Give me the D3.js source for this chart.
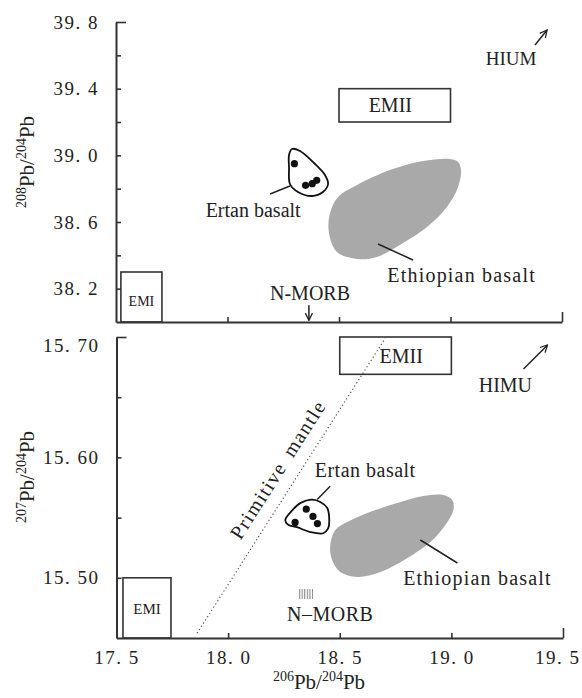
<!DOCTYPE html>
<html>
<head>
<meta charset="utf-8">
<script src="https://cdn.jsdelivr.net/npm/d3@7"></script>
<style>
  body { margin: 0; background: #fff; }
  svg { display: block; }
</style>
</head>
<body>
<svg id="chart" width="582" height="698"></svg>
<script>
// ---- shared x axis (206Pb/204Pb)
const xTicks = [17.5, 18.0, 18.5, 19.0, 19.5];
const xTickLabels = ['17. 5', '18. 0', '18. 5', '19. 0', '19. 5'];

// ---- upper panel (208Pb/204Pb)
const topYTicks = [38.2, 38.6, 39.0, 39.4, 39.8];
const topYLabels = ['38. 2', '38. 6', '39. 0', '39. 4', '39. 8'];
const topYMinor = [38.4, 38.8, 39.2, 39.6];

// ---- lower panel (207Pb/204Pb)
const botYTicks = [15.50, 15.60, 15.70];
const botYLabels = ['15. 50', '15. 60', '15. 70'];
const botYMinor = [15.55, 15.65];

// Ertan basalt samples
const ertanX = [18.30, 18.35, 18.38, 18.40];
const ertan208 = [38.95, 38.82, 38.83, 38.85];
const ertan207 = [15.546, 15.557, 15.551, 15.545];

// outline round the Ertan samples  [206/204, y]
const ertanHull208 = [[18.289, 39.038], [18.325, 39.026], [18.388, 38.954], [18.437, 38.882], [18.451, 38.828],
  [18.428, 38.780], [18.379, 38.756], [18.316, 38.780], [18.280, 38.828], [18.276, 38.924], [18.276, 39.002]];
const ertanHull207 = [[18.256, 15.548], [18.287, 15.556], [18.323, 15.562], [18.377, 15.565], [18.413, 15.563],
  [18.444, 15.558], [18.453, 15.548], [18.448, 15.541], [18.426, 15.537], [18.368, 15.538], [18.309, 15.542], [18.269, 15.544]];

// Ethiopian basalt field
const ethiopia208 = [[18.460, 38.654], [18.496, 38.750], [18.581, 38.822], [18.729, 38.912], [18.877, 38.966],
  [18.998, 38.978], [19.034, 38.960], [19.047, 38.912], [19.034, 38.810], [18.984, 38.690], [18.895, 38.570],
  [18.787, 38.474], [18.670, 38.390], [18.581, 38.378], [18.491, 38.420], [18.455, 38.534]];
const ethiopia207 = [[18.457, 15.5256], [18.480, 15.5397], [18.534, 15.5463], [18.623, 15.5538], [18.758, 15.5621],
  [18.874, 15.5679], [18.964, 15.5688], [19.004, 15.5646], [19.009, 15.5563], [18.973, 15.5439], [18.906, 15.5297],
  [18.803, 15.5164], [18.682, 15.5048], [18.578, 15.5007], [18.502, 15.5048], [18.466, 15.5148]];

// end-member boxes [x0, x1, y0, y1]
const emi208 = [17.522, 17.706, 38.0, 38.30];
const emii208 = [18.5, 19.0, 39.2, 39.4];
const emi207 = [17.529, 17.744, 15.45, 15.50];
const emii207 = [18.5, 19.0, 15.669, 15.70];
const morb207 = [18.318, 18.381, 15.4824, 15.4907];

// primitive mantle reference line
const primitiveMantle = [[17.861, 15.454], [18.704, 15.699]];

const FONT = '"Liberation Serif", "Times New Roman", serif';
const INK = '#222';
const svg = d3.select('#chart').attr('font-family', FONT);

const defs = svg.append('defs');
defs.append('marker').attr('id', 'arr')
  .attr('viewBox', '0 0 10 10').attr('refX', 9).attr('refY', 5)
  .attr('markerWidth', 9).attr('markerHeight', 9).attr('markerUnits', 'userSpaceOnUse')
  .attr('orient', 'auto')
  .append('path').attr('d', 'M1,1 L9,5 L1,9').attr('fill', 'none').attr('stroke', INK).attr('stroke-width', 1.4);
defs.append('pattern').attr('id', 'hatch').attr('patternUnits', 'userSpaceOnUse')
  .attr('width', 2.6).attr('height', 10)
  .append('rect').attr('width', 1.1).attr('height', 10).attr('fill', '#888');

const xT = d3.scaleLinear().domain([17.5, 19.5]).range([116, 562]);
const yT = d3.scaleLinear().domain([38.0, 39.8]).range([322, 22]);
const xB = d3.scaleLinear().domain([17.5, 19.5]).range([116.5, 563]);
const yB = d3.scaleLinear().domain([15.45, 15.70]).range([638, 337]);

function styleAxis(g) {
  g.attr('font-family', FONT).attr('font-size', 19);
  g.select('.domain').attr('stroke', '#333').attr('stroke-width', 2);
  g.selectAll('.tick line').attr('stroke', '#333').attr('stroke-width', 1.6);
  g.selectAll('.tick text').attr('fill', INK).style('letter-spacing', '1.5px');
}

function yAxis(x, y, majors, labels, minors) {
  const fmt = new Map(majors.map((v, i) => [v, labels[i]]));
  const g = svg.append('g').attr('transform', `translate(${x.range()[0]},0)`)
    .call(d3.axisLeft(y).tickValues(majors.concat(minors)).tickSize(-5).tickSizeOuter(0)
      .tickPadding(17).tickFormat(d => fmt.get(d) || ''));
  styleAxis(g);
  g.selectAll('.tick line').filter(d => d === y.domain()[1]).attr('x2', 10);
  return g;
}

function xAxis(x, y, labels) {
  const fmt = new Map(xTicks.map((v, i) => [v, labels ? labels[i] : '']));
  const g = svg.append('g').attr('transform', `translate(0,${y.range()[0]})`)
    .call(d3.axisBottom(x).tickValues(xTicks).tickSize(-5).tickSizeOuter(0)
      .tickPadding(13).tickFormat(d => fmt.get(d)));
  styleAxis(g);
  g.selectAll('.tick line').filter(d => d === x.domain()[0]).remove();
  g.selectAll('.tick line').filter(d => d === x.domain()[1]).attr('y2', -10);
  // last label sits against the right edge of the figure
  g.selectAll('.tick text').filter(d => d === x.domain()[1])
    .attr('text-anchor', 'end').attr('x', 582 - x(x.domain()[1]) - 2);
  return g;
}

function label(x, y, px, py, txt, size, spacing) {
  return svg.append('text').attr('x', x(px)).attr('y', y(py)).attr('dy', '0.35em')
    .attr('text-anchor', 'middle').attr('font-size', size || 20).attr('fill', INK)
    .style('letter-spacing', spacing || '0px').text(txt);
}

function segment(x, y, p0, p1, arrow) {
  const l = svg.append('line')
    .attr('x1', x(p0[0])).attr('y1', y(p0[1])).attr('x2', x(p1[0])).attr('y2', y(p1[1]))
    .attr('stroke', INK).attr('stroke-width', 1.5);
  if (arrow) l.attr('marker-end', 'url(#arr)');
  return l;
}

function box(x, y, b, fill) {
  return svg.append('rect')
    .attr('x', x(b[0])).attr('y', y(b[3]))
    .attr('width', x(b[1]) - x(b[0])).attr('height', y(b[2]) - y(b[3]))
    .attr('fill', fill || 'none').attr('stroke', fill ? 'none' : '#333').attr('stroke-width', 1.6);
}

function isoTitle(tx, ty, rot, mass) {
  const t = svg.append('text').attr('transform', `translate(${tx},${ty}) rotate(${rot})`)
    .attr('text-anchor', 'middle').attr('fill', INK);
  t.append('tspan').attr('font-size', 14).attr('dy', -8).text(mass);
  t.append('tspan').attr('font-size', 21).attr('dy', 8).text('Pb/');
  t.append('tspan').attr('font-size', 14).attr('dy', -8).text('204');
  t.append('tspan').attr('font-size', 21).attr('dy', 8).text('Pb');
}

function panel(x, y, hull, field, ys) {
  const smooth = d3.line().x(d => x(d[0])).y(d => y(d[1])).curve(d3.curveCatmullRomClosed.alpha(0.5));
  svg.append('path').datum(field).attr('d', smooth).attr('fill', '#a9a9a9');
  svg.append('path').datum(hull).attr('d', smooth)
    .attr('fill', '#fff').attr('stroke', '#111').attr('stroke-width', 1.8);
  svg.append('g').selectAll('circle').data(ertanX).join('circle')
    .attr('cx', d => x(d)).attr('cy', (d, i) => y(ys[i])).attr('r', 3.6).attr('fill', '#111');
}

// ================= upper panel =================
panel(xT, yT, ertanHull208, ethiopia208, ertan208);
box(xT, yT, emi208);
box(xT, yT, emii208);
label(xT, yT, (emi208[0] + emi208[1]) / 2, 38.125, 'EMI', 14);
label(xT, yT, 18.73, 39.30, 'EMII', 20);
segment(xT, yT, [18.280, 38.816], [18.191, 38.768]);
label(xT, yT, 18.115, 38.675, 'Ertan basalt', 20);
segment(xT, yT, [18.675, 38.468], [18.832, 38.372]);
label(xT, yT, 19.05, 38.280, 'Ethiopian basalt', 20, '1.2px');
label(xT, yT, 18.37, 38.172, 'N-MORB', 20);
segment(xT, yT, [18.365, 38.100], [18.365, 38.010], true);
label(xT, yT, 19.272, 39.582, 'HIUM', 19);
segment(xT, yT, [19.379, 39.662], [19.433, 39.752], true);
yAxis(xT, yT, topYTicks, topYLabels, topYMinor);
xAxis(xT, yT, null);
isoTitle(34, 162, -90, '208');

// ================= lower panel =================
svg.append('line')
  .attr('x1', xB(primitiveMantle[0][0])).attr('y1', yB(primitiveMantle[0][1]))
  .attr('x2', xB(primitiveMantle[1][0])).attr('y2', yB(primitiveMantle[1][1]))
  .attr('stroke', '#555').attr('stroke-width', 1.2).attr('stroke-dasharray', '1.2,2.6');
const ang = Math.atan2(yB(primitiveMantle[1][1]) - yB(primitiveMantle[0][1]),
  xB(primitiveMantle[1][0]) - xB(primitiveMantle[0][0])) * 180 / Math.PI;
svg.append('text')
  .attr('transform', `translate(${xB(18.222)},${yB(15.590)}) rotate(${ang})`)
  .attr('dy', '0.35em').attr('text-anchor', 'middle').attr('font-size', 20).attr('fill', INK)
  .style('letter-spacing', '1.4px').style('word-spacing', '4px').text('Primitive mantle');

panel(xB, yB, ertanHull207, ethiopia207, ertan207);
box(xB, yB, emi207);
box(xB, yB, emii207);
box(xB, yB, morb207, 'url(#hatch)');
label(xB, yB, (emi207[0] + emi207[1]) / 2, 15.474, 'EMI', 15);
label(xB, yB, 18.775, 15.6845, 'EMII', 20);
segment(xB, yB, [18.399, 15.565], [18.457, 15.576]);
label(xB, yB, 18.614, 15.5895, 'Ertan basalt', 20, '0.5px');
segment(xB, yB, [18.861, 15.5314], [19.027, 15.5123]);
label(xB, yB, 19.117, 15.4998, 'Ethiopian basalt', 20, '1.2px');
label(xB, yB, 18.457, 15.4700, 'N\u2013MORB', 20, '0.5px');
label(xB, yB, 19.242, 15.6600, 'HIMU', 20);
segment(xB, yB, [19.323, 15.6734], [19.431, 15.6934], true);
const ya = yAxis(xB, yB, botYTicks, botYLabels, botYMinor);
ya.selectAll('.tick text').filter(d => d === 15.70).attr('dy', '0.75em');
xAxis(xB, yB, xTickLabels);
isoTitle(34, 477, -90, '207');
const xt = svg.append('text').attr('x', 319).attr('y', 689).attr('text-anchor', 'middle').attr('fill', INK);
xt.append('tspan').attr('font-size', 14).attr('dy', -8).text('206');
xt.append('tspan').attr('font-size', 21).attr('dy', 8).text('Pb/');
xt.append('tspan').attr('font-size', 14).attr('dy', -8).text('204');
xt.append('tspan').attr('font-size', 21).attr('dy', 8).text('Pb');
</script>
</body>
</html>
